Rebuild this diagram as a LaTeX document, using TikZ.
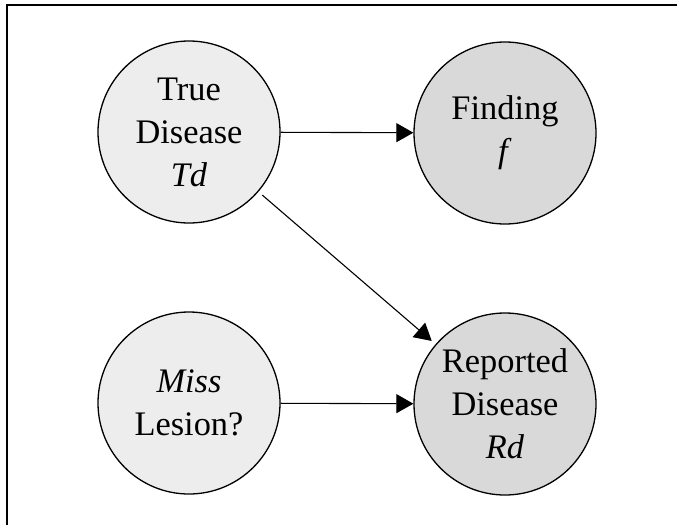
\documentclass[tikz,border=0pt]{standalone}
\usepackage{fontspec}
\setmainfont{LiberationSerif}[Extension=.ttf, UprightFont=*-Regular, BoldFont=*-Bold, ItalicFont=*-Italic, BoldItalicFont=*-BoldItalic]
\usetikzlibrary{arrows.meta}
\definecolor{lightfill}{HTML}{EDEDED}
\definecolor{darkfill}{HTML}{D9D9D9}
\tikzset{
  varnode/.style={circle, draw=black, line width=1.3pt, minimum size=182pt, inner sep=0pt,
    align=center, font=\fontsize{34.4}{43}\selectfont},
  lightnode/.style={varnode, fill=lightfill},
  darknode/.style={varnode, fill=darkfill},
  link/.style={line width=1.1pt, -{Triangle[length=17pt,width=19pt]}}
}
\begin{document}
\begin{tikzpicture}[x=1pt,y=-1pt]
\useasboundingbox (0,0) rectangle (677,525);
\draw[line width=2pt] (7,525) -- (7,5) -- (677,5);
\node[lightnode] (td) at (189,132) {True\\Disease\\\textit{Td}};
\node[darknode] (f) at (505,133) {Finding\\\textit{f}};
\node[lightnode] (ml) at (189,403) {\textit{Miss}\\Lesion?};
\node[darknode] (rd) at (505,404) {Reported\\Disease\\\textit{Rd}};
\draw[link] (td) -- (f);
\draw[link, shorten <=5pt, shorten >=5pt] (td) -- (rd);
\draw[link] (ml) -- (rd);
\end{tikzpicture}
\end{document}
